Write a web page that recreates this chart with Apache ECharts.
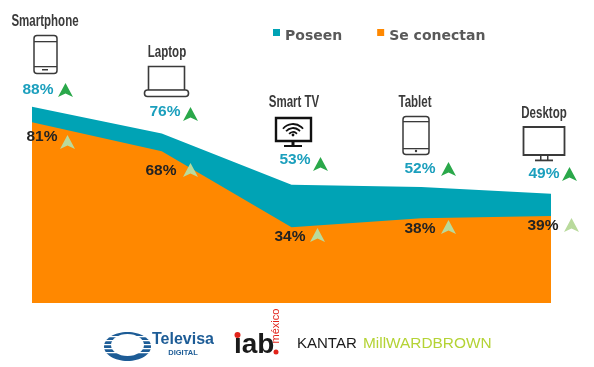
<!DOCTYPE html>
<html>
<head>
<meta charset="utf-8">
<style>
  html, body { margin: 0; padding: 0; background: #fff; }
  #chart { width: 594px; height: 367px; }
</style>
<script src="https://cdn.jsdelivr.net/npm/echarts@6/dist/echarts.min.js"></script>
</head>
<body>
<div id="chart"></div>
<script>
var categories = ['Smartphone', 'Laptop', 'Smart TV', 'Tablet', 'Desktop']
var poseen = [88, 76, 53, 52, 49]
var seConectan = [81, 68, 34, 38, 39]

var TEAL = '#00a3b5'
var ORANGE = '#ff8800'
var ICON = '#3a3a3a'
var Z = 100

// anotaciones alrededor del area: titulo, % poseen, % se conectan y flechas
var titlePos = [[45, 22], [167, 53], [294, 103], [415, 103], [544, 114]]
var poseenPos = [[38, 90], [165, 112], [295, 160], [420, 169], [544, 174]]
var poseenArrow = [[58, 83], [183, 107], [313, 157], [441, 162], [562, 167]]
var conectanPos = [[42, 137], [161, 171], [290, 237], [420, 229], [543, 226]]
var conectanArrow = [[60, 135], [183, 163], [310, 228], [441, 220], [564, 218]]

function label(text, x, y, size, color, weight, align, scaleX) {
  return {
    type: 'text',
    x: x,
    y: y,
    z: Z,
    scaleX: scaleX || 1,
    silent: true,
    style: {
      text: text,
      fill: color,
      align: align || 'center',
      verticalAlign: 'middle',
      font: (weight || 'bold') + ' ' + size + 'px "Liberation Sans", sans-serif'
    }
  }
}

function arrow(pos, color) {
  return {
    type: 'polygon',
    x: pos[0],
    y: pos[1],
    z: Z,
    silent: true,
    shape: { points: [[0, 14], [7.5, 0], [15, 14], [7.5, 10.5]] },
    style: { fill: color }
  }
}

function box(x, y, w, h, r, lw, fill) {
  return {
    type: 'rect',
    z: Z,
    silent: true,
    shape: { x: x, y: y, width: w, height: h, r: r },
    style: { fill: fill || 'none', stroke: ICON, lineWidth: lw }
  }
}

function bar(x, y, w, h, color) {
  return {
    type: 'rect',
    z: Z,
    silent: true,
    shape: { x: x, y: y, width: w, height: h },
    style: { fill: color || ICON }
  }
}

function dot(cx, cy, r, color) {
  return {
    type: 'circle',
    z: Z,
    silent: true,
    shape: { cx: cx, cy: cy, r: r },
    style: { fill: color }
  }
}

function wifiArc(r) {
  return {
    type: 'arc',
    z: Z,
    silent: true,
    shape: { cx: 293, cy: 137, r: r, startAngle: Math.PI * 1.22, endAngle: Math.PI * 1.78 },
    style: { stroke: '#111', fill: 'none', lineWidth: 1.8 }
  }
}

function icons() {
  return [
    // smartphone
    box(34, 35.5, 23, 38, 3, 1.5),
    bar(34, 41, 23, 1.3),
    bar(34, 66, 23, 1.3),
    bar(42, 69, 6, 1.5),
    // laptop
    box(148.5, 66.5, 36, 24, 0, 1.6),
    box(144.5, 90, 44, 6.5, 3, 1.6, '#fff'),
    // smart tv
    {
      type: 'rect',
      z: Z,
      silent: true,
      shape: { x: 276, y: 118, width: 35, height: 23 },
      style: { fill: 'none', stroke: '#111', lineWidth: 2.4 }
    },
    bar(291.5, 141, 3, 4, '#111'),
    bar(284, 145, 18, 2, '#111'),
    wifiArc(13),
    wifiArc(9),
    wifiArc(5),
    dot(293, 135, 1.4, '#111'),
    // tablet
    box(403, 116.5, 26, 38, 3, 1.5),
    bar(403, 121, 26, 1.3),
    bar(403, 148, 26, 1.3),
    dot(416, 151, 1.2, ICON),
    // desktop
    box(523.5, 127, 41, 28, 0, 1.8),
    bar(540, 155, 1.5, 5),
    bar(547, 155, 1.5, 5),
    bar(535, 159.5, 18, 1.8)
  ]
}

function televisaLogo() {
  var blue = '#1d5c96'
  var out = [
    { type: 'ellipse', z: Z, silent: true, shape: { cx: 127.5, cy: 346.5, rx: 23.5, ry: 14.5 }, style: { fill: blue } }
  ]
  var stripes = [336, 340, 344, 348, 352]
  stripes.forEach(function (y) {
    out.push(bar(103, y, 49, 1.2, '#fff'))
  })
  out.push({ type: 'ellipse', z: Z, silent: true, shape: { cx: 127.5, cy: 345, rx: 16.5, ry: 11 }, style: { fill: '#fff' } })
  out.push(label('Televisa', 152, 340, 16, blue, 'bold', 'left'))
  out.push(label('DIGITAL', 183, 353, 7.5, blue))
  return out
}

function iabLogo() {
  return [
    label('iab', 234, 345, 28, '#1a1a1a', 'bold', 'left'),
    dot(237.5, 335, 3, '#e2231a'),
    dot(276, 352, 2.5, '#e2231a'),
    {
      type: 'text',
      x: 276,
      y: 326,
      z: Z,
      rotation: Math.PI / 2,
      silent: true,
      style: {
        text: 'méxico',
        fill: '#e2231a',
        align: 'center',
        verticalAlign: 'middle',
        font: '11px "Liberation Sans", sans-serif'
      }
    }
  ]
}

function kantarLogo() {
  return [
    label('KANTAR', 297, 344, 15, '#1a1a1a', 'normal', 'left'),
    label('MillWARDBROWN', 363, 344, 15.4, '#b4d335', 'normal', 'left')
  ]
}

function annotations() {
  var out = []
  categories.forEach(function (name, i) {
    out.push(label(name, titlePos[i][0], titlePos[i][1], 16, ICON, 'bold', 'center', 0.72))
    out.push(label(poseen[i] + '%', poseenPos[i][0], poseenPos[i][1], 15.5, '#1b9fbd'))
    out.push(arrow(poseenArrow[i], '#2aa84a'))
    out.push(label(seConectan[i] + '%', conectanPos[i][0], conectanPos[i][1], 15.5, '#222'))
    out.push(arrow(conectanArrow[i], '#b9da9c'))
  })
  return out
}

var chart = echarts.init(document.getElementById('chart'))
chart.setOption({
  animation: false,
  backgroundColor: '#fff',
  legend: {
    left: 273,
    top: 29,
    padding: 0,
    // cuadro arriba del centro del texto, como en la original
    icon: 'path://M0,0H7V7H0Z M0,14L0,14',
    itemWidth: 7,
    itemHeight: 14,
    itemGap: 35,
    selectedMode: false,
    textStyle: {
      color: '#595959',
      fontSize: 14,
      fontWeight: 'bold',
      fontFamily: '"DejaVu Sans", sans-serif'
    },
    data: ['Poseen', 'Se conectan']
  },
  grid: { left: 32, right: 43, top: 80, bottom: 64 },
  xAxis: {
    type: 'category',
    boundaryGap: false,
    data: categories,
    show: false
  },
  yAxis: {
    type: 'value',
    min: 0,
    max: 100,
    show: false
  },
  series: [
    {
      name: 'Poseen',
      type: 'line',
      data: poseen,
      symbol: 'none',
      silent: true,
      itemStyle: { color: TEAL },
      lineStyle: { width: 0 },
      areaStyle: { color: TEAL, opacity: 1 }
    },
    {
      name: 'Se conectan',
      type: 'line',
      data: seConectan,
      symbol: 'none',
      silent: true,
      itemStyle: { color: ORANGE },
      lineStyle: { width: 0 },
      areaStyle: { color: ORANGE, opacity: 1 }
    }
  ],
  graphic: annotations().concat(icons(), televisaLogo(), iabLogo(), kantarLogo())
})
</script>
</body>
</html>
